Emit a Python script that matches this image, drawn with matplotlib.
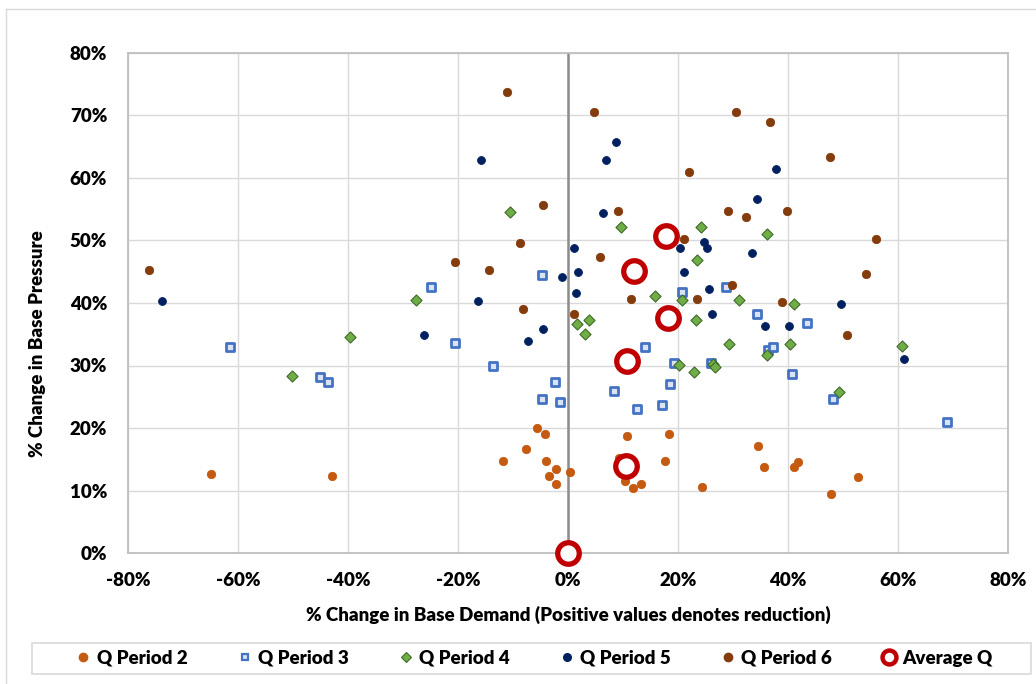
import numpy as np
import matplotlib
matplotlib.use("Agg")
import matplotlib.pyplot as plt
from matplotlib.ticker import PercentFormatter, MultipleLocator
from matplotlib.patches import Rectangle
from matplotlib.lines import Line2D

plt.rcParams['font.family'] = ['Lato', 'DejaVu Sans']
plt.rcParams['font.weight'] = 'heavy'
plt.rcParams['axes.unicode_minus'] = False

# % change in base demand (x) and base pressure (y), per Q period
p2_x = [-64.9, -42.9, -5.6, -4.2, -7.7, -11.9, -4.0, -2.1, -3.4, 0.3, -2.1, 10.8, 18.4,
        34.5, 17.6, 9.2, 10.4, 11.8, 13.2, 24.4, 35.6, 41.0, 41.8, 47.9, 52.8]
p2_y = [12.6, 12.3, 20.0, 19.1, 16.6, 14.8, 14.8, 13.4, 12.3, 12.9, 11.0, 18.7, 19.1,
        17.2, 14.8, 15.2, 11.6, 10.4, 11.0, 10.6, 13.7, 13.7, 14.6, 9.5, 12.1]

p3_x = [-61.4, -45.1, -43.6, -25.0, -4.7, -20.6, -13.6, -2.3, -4.7, -1.4, 8.3, 20.7, 28.7,
        34.4, 43.5, 14.0, 19.2, 26.0, 36.3, 37.3, 18.5, 12.5, 17.0, 40.7, 48.1, 69.0]
p3_y = [33.0, 28.1, 27.3, 42.6, 44.5, 33.6, 29.9, 27.3, 24.6, 24.2, 25.9, 41.7, 42.6,
        38.3, 36.8, 33.0, 30.4, 30.4, 32.5, 33.0, 27.0, 23.1, 23.7, 28.6, 24.6, 21.0]

p4_x = [-50.1, -39.6, -27.6, -10.5, 9.6, 3.8, 1.6, 3.0, 24.2, 36.2, 23.5, 15.9, 20.7,
        31.0, 41.0, 23.3, 29.2, 40.4, 36.1, 20.2, 22.9, 26.3, 26.7, 49.3, 60.8]
p4_y = [28.3, 34.5, 40.5, 54.6, 52.2, 37.3, 36.7, 35.0, 52.2, 51.1, 46.9, 41.2, 40.5,
        40.5, 39.8, 37.3, 33.5, 33.5, 31.7, 30.1, 29.0, 30.2, 29.7, 25.8, 33.1]

p5_x = [-73.8, -15.9, 8.7, 6.9, 6.4, 1.0, 1.8, -1.1, 1.5, -16.3, -4.6, -26.1, -7.3,
        37.8, 34.4, 24.8, 25.3, 20.4, 33.5, 21.1, 25.6, 49.6, 26.2, 35.9, 40.1, 61.1]
p5_y = [40.4, 62.9, 65.8, 62.9, 54.4, 48.8, 44.9, 44.2, 41.6, 40.4, 35.9, 34.9, 34.0,
        61.5, 56.6, 49.7, 48.8, 48.8, 48.0, 44.9, 42.2, 39.8, 38.2, 36.3, 36.3, 31.1]

p6_x = [-76.1, -11.1, 4.7, -4.6, 9.1, -8.8, 5.8, -20.6, -14.4, -8.2, 1.1, 30.5, 36.7,
        47.6, 22.0, 29.0, 32.4, 39.8, 21.1, 29.9, 11.4, 23.5, 38.9, 50.7, 56.0, 54.2]
p6_y = [45.3, 73.8, 70.5, 55.7, 54.7, 49.6, 47.4, 46.6, 45.3, 39.1, 38.2, 70.5, 69.0,
        63.4, 61.0, 54.7, 53.8, 54.7, 50.3, 42.9, 40.6, 40.6, 40.2, 34.9, 50.3, 44.6]

avg_x = [0.0, 10.5, 10.7, 18.2, 12.0, 17.9]
avg_y = [0.0, 13.9, 30.7, 37.6, 45.2, 50.7]

labels = ['Q Period 2', 'Q Period 3', 'Q Period 4', 'Q Period 5', 'Q Period 6', 'Average Q']


def pct(v):
    return np.array(v) / 100.0


fig = plt.figure(figsize=(10.36, 6.84), dpi=100)
ax = fig.add_axes([128 / 1036, 131 / 684, 880 / 1036, 500 / 684])

# chart border (only the left and top edges fall inside the image)
fig.add_artist(Line2D([6 / 1036, 6 / 1036], [0, 1 - 9 / 684], transform=fig.transFigure,
                      color='#D9D9D9', lw=1))
fig.add_artist(Line2D([6 / 1036, 1], [1 - 9 / 684, 1 - 9 / 684], transform=fig.transFigure,
                      color='#D9D9D9', lw=1))

ax.set_xlim(-0.8, 0.8)
ax.set_ylim(0, 0.8)
ax.xaxis.set_major_locator(MultipleLocator(0.2))
ax.yaxis.set_major_locator(MultipleLocator(0.1))
ax.xaxis.set_major_formatter(PercentFormatter(1.0, decimals=0))
ax.yaxis.set_major_formatter(PercentFormatter(1.0, decimals=0))
ax.grid(True, color='#D9D9D9', lw=1)
ax.set_axisbelow(True)
for s in ax.spines.values():
    s.set_color('#BFBFBF')
    s.set_linewidth(1.3)
ax.tick_params(length=0, labelsize=13.5)
ax.tick_params(axis='x', pad=14)
ax.tick_params(axis='y', pad=15)
ax.axvline(0, color='#8C8C8C', lw=1.8, zorder=1.5)

s_dot = 36
h2 = ax.scatter(pct(p2_x), pct(p2_y), s=s_dot, marker='o', color='#C55A11',
                edgecolors='#C55A11', linewidths=0.6, zorder=3)
h3 = ax.scatter(pct(p3_x), pct(p3_y), s=32, marker='s', facecolors='#DAE3F3',
                edgecolors='#4472C4', linewidths=2.0, zorder=3)
h4 = ax.scatter(pct(p4_x), pct(p4_y), s=32, marker='D', facecolors='#70AD47',
                edgecolors='#3F6B2A', linewidths=0.8, zorder=3)
h5 = ax.scatter(pct(p5_x), pct(p5_y), s=32, marker='o', color='#002060',
                edgecolors='#002060', linewidths=0.6, zorder=3)
h6 = ax.scatter(pct(p6_x), pct(p6_y), s=s_dot, marker='o', color='#843C0C',
                edgecolors='#843C0C', linewidths=0.6, zorder=3)
ha = ax.scatter(pct(avg_x), pct(avg_y), s=240, marker='o', facecolors='white',
                edgecolors='#C00000', linewidths=3.8, zorder=4, clip_on=False)

ax.set_xlabel('% Change in Base Demand (Positive values denotes reduction)',
              fontsize=13.5, fontweight='heavy', labelpad=12)
fig.text(38 / 1036, 1 - 344 / 684, '% Change in Base Pressure', rotation=90,
         fontsize=13.5, fontweight='heavy', ha='center', va='center')

# legend box
fig.add_artist(Rectangle((32 / 1036, 1 - 674 / 684), 999 / 1036, 31 / 684,
                         transform=fig.transFigure, facecolor='none',
                         edgecolor='#D9D9D9', lw=1.2))
leg_handles = [
    Line2D([], [], ls='none', marker='o', ms=6, color='#C55A11'),
    Line2D([], [], ls='none', marker='s', ms=5, mfc='#DAE3F3', mec='#4472C4', mew=1.6),
    Line2D([], [], ls='none', marker='D', ms=5, mfc='#70AD47', mec='#3F6B2A', mew=0.8),
    Line2D([], [], ls='none', marker='o', ms=5.5, color='#002060'),
    Line2D([], [], ls='none', marker='o', ms=6, color='#843C0C'),
    Line2D([], [], ls='none', marker='o', ms=10, mfc='white', mec='#C00000', mew=3.2),
]
fig.legend(leg_handles, labels, loc='center', ncol=6,
           bbox_to_anchor=(535 / 1036, 1 - 658.5 / 684), frameon=False,
           prop={'weight': 'heavy', 'size': 13.5}, handlelength=0.6,
           handletextpad=0.4, columnspacing=2.75)

fig.savefig('out.png', dpi=100, facecolor='white')
